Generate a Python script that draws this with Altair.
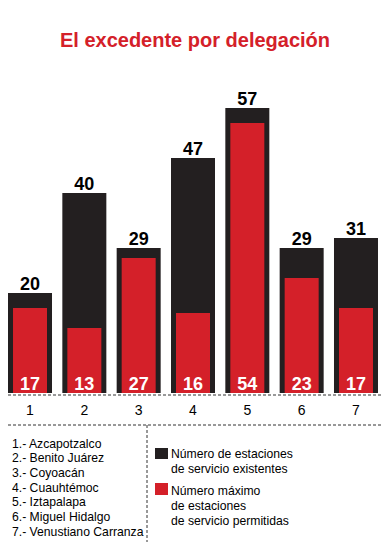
import altair as alt
import pandas as pd

# ---- data ----
districts = ["1", "2", "3", "4", "5", "6", "7"]
district_names = [
    "1.- Azcapotzalco",
    "2.- Benito Juárez",
    "3.- Coyoacán",
    "4.- Cuauhtémoc",
    "5.- Iztapalapa",
    "6.- Miguel Hidalgo",
    "7.- Venustiano Carranza",
]
existentes = [20, 40, 29, 47, 57, 29, 31]
permitidas = [17, 13, 27, 16, 54, 23, 17]
title_text = "El excedente por delegación"
legend_existentes = "Número de estaciones\nde servicio existentes"
legend_permitidas = "Número máximo\nde estaciones\nde servicio permitidas"

BLACK = "#231f20"
RED = "#d42029"
W, H = 374, 534
FONT = "Liberation Sans, Arial, Helvetica, sans-serif"
SMALL = 12.2

df = pd.DataFrame({"d": districts, "ex": existentes, "pe": permitidas})
one = pd.DataFrame({"k": [0]})

xs = alt.Scale(domain=districts, range=[0, 370], paddingInner=0.19, paddingOuter=0)
ys = alt.Scale(domain=[0, 77], range=[385, 0])
X = alt.X("d:O", scale=xs, axis=None)

base = alt.Chart(df)

black_bars = base.mark_bar(color=BLACK, size=44).encode(
    x=X, y=alt.Y("ex:Q", scale=ys, axis=None)
)
red_bars = base.mark_bar(color=RED, size=34).encode(
    x=X, y=alt.Y("pe:Q", scale=ys, axis=None)
)
top_labels = base.mark_text(
    font=FONT, fontSize=18, fontWeight="bold", color="black", dy=-3, baseline="alphabetic"
).encode(x=X, y=alt.Y("ex:Q", scale=ys, axis=None), text="ex:Q")
in_labels = base.mark_text(
    font=FONT, fontSize=18, fontWeight="bold", color="white", dy=-3, baseline="alphabetic"
).encode(x=X, y=alt.datum(0, scale=ys), text="pe:Q")
tick_labels = base.mark_text(
    font=FONT, fontSize=14, color="black", baseline="middle"
).encode(x=X, y=alt.value(403), text="d:N")

axis_line = alt.Chart(one).mark_rule(color="#333333", strokeDash=[3, 2], strokeWidth=1).encode(
    x=alt.value(0), x2=alt.value(W), y=alt.value(387)
)
sep_line = alt.Chart(one).mark_rule(color="#333333", strokeDash=[3, 2], strokeWidth=1).encode(
    x=alt.value(0), x2=alt.value(W), y=alt.value(417)
)
vert_line = alt.Chart(one).mark_rule(color="#333333", strokeDash=[3, 2], strokeWidth=1).encode(
    x=alt.value(139), y=alt.value(417), y2=alt.value(H)
)

title = alt.Chart(pd.DataFrame({"t": [title_text]})).mark_text(
    font=FONT, fontSize=20, fontWeight="bold", color=RED, align="center", baseline="alphabetic"
).encode(x=alt.value(W / 2), y=alt.value(38.5), text="t:N")

names = alt.Chart(pd.DataFrame({"t": ["\n".join(district_names)]})).mark_text(
    font=FONT, fontSize=SMALL, color="black", align="left", baseline="alphabetic",
    lineBreak="\n", lineHeight=14.7
).encode(x=alt.value(4), y=alt.value(439.5), text="t:N")

leg_sq_black = alt.Chart(one).mark_rect(color=BLACK).encode(
    x=alt.value(147), x2=alt.value(160), y=alt.value(440), y2=alt.value(451)
)
leg_sq_red = alt.Chart(one).mark_rect(color=RED).encode(
    x=alt.value(147), x2=alt.value(160), y=alt.value(475), y2=alt.value(487)
)
leg_txt_black = alt.Chart(pd.DataFrame({"t": [legend_existentes]})).mark_text(
    font=FONT, fontSize=SMALL, color="black", align="left", baseline="alphabetic",
    lineBreak="\n", lineHeight=15
).encode(x=alt.value(163), y=alt.value(449.5), text="t:N")
leg_txt_red = alt.Chart(pd.DataFrame({"t": [legend_permitidas]})).mark_text(
    font=FONT, fontSize=SMALL, color="black", align="left", baseline="alphabetic",
    lineBreak="\n", lineHeight=15
).encode(x=alt.value(163), y=alt.value(486.5), text="t:N")

chart = alt.layer(
    black_bars, red_bars, top_labels, in_labels, tick_labels,
    axis_line, sep_line, vert_line, title, names,
    leg_sq_black, leg_sq_red, leg_txt_black, leg_txt_red,
).properties(
    width=W, height=H, padding=0, autosize="none"
).configure_view(stroke=None)

chart.save("out.html", embed_options={"renderer": "svg", "actions": False})
